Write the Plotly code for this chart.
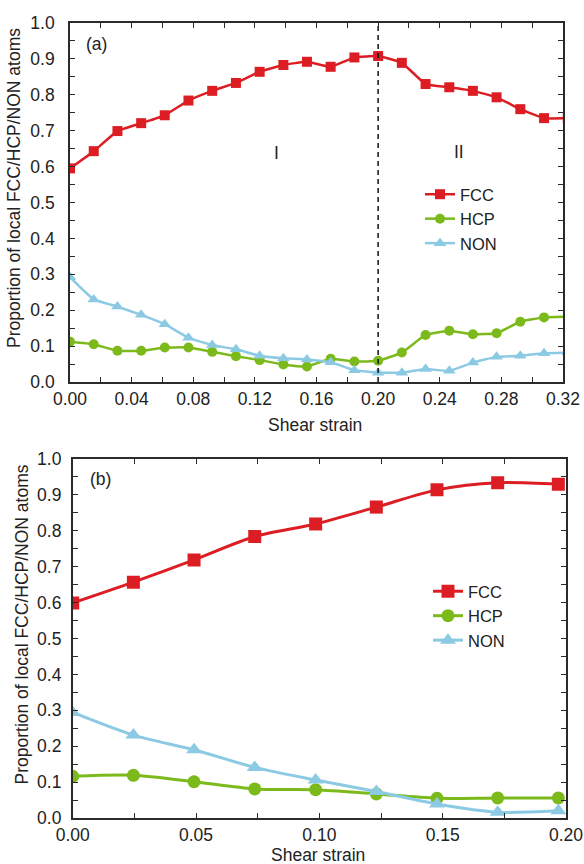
import plotly.graph_objects as go

# ---------------- data: panel (a) ----------------
strain_a = [0.0, 0.0154, 0.0308, 0.0462, 0.0615, 0.0769, 0.0923, 0.1077, 0.1231, 0.1385,
            0.1538, 0.1692, 0.1846, 0.2000, 0.2154, 0.2308, 0.2462, 0.2615, 0.2769, 0.2923,
            0.3077, 0.3231]
fcc_a = [0.595, 0.643, 0.699, 0.721, 0.743, 0.784, 0.811, 0.833, 0.864, 0.883,
         0.892, 0.878, 0.904, 0.908, 0.889, 0.830, 0.821, 0.811, 0.793, 0.760,
         0.735, 0.735]
hcp_a = [0.112, 0.105, 0.087, 0.087, 0.096, 0.096, 0.084, 0.072, 0.061, 0.049,
         0.043, 0.065, 0.057, 0.059, 0.082, 0.131, 0.143, 0.133, 0.136, 0.168,
         0.180, 0.182]
non_a = [0.292, 0.230, 0.210, 0.187, 0.161, 0.123, 0.103, 0.091, 0.073, 0.066,
         0.063, 0.055, 0.033, 0.026, 0.026, 0.036, 0.031, 0.054, 0.070, 0.073,
         0.080, 0.082]

# ---------------- data: panel (b) ----------------
strain_b = [0.0, 0.0246, 0.0492, 0.0738, 0.0985, 0.1231, 0.1477, 0.1723, 0.1969]
fcc_b = [0.599, 0.657, 0.719, 0.784, 0.819, 0.866, 0.914, 0.934, 0.930]
hcp_b = [0.116, 0.119, 0.101, 0.081, 0.079, 0.067, 0.055, 0.056, 0.056]
non_b = [0.294, 0.231, 0.190, 0.141, 0.106, 0.074, 0.039, 0.016, 0.020]

series_names = ["FCC", "HCP", "NON"]
boundary_strain = 0.2

# ---------------- styles ----------------
RED = "#dc1e24"
GREEN = "#7cba1c"
BLUE = "#8ccae4"
AX = "#2a2a2a"
FONT = "Arial, 'Liberation Sans', sans-serif"
FS = 17.5
LFS = 16.5

fig = go.Figure()

styles = [(RED, "square"), (GREEN, "circle"), (BLUE, "triangle-up")]

for name, ys, (col, sym) in zip(series_names, [fcc_a, hcp_a, non_a], styles):
    fig.add_trace(go.Scatter(
        x=strain_a, y=ys, name=name, mode="lines+markers",
        line=dict(color=col, width=2.5, shape="spline", smoothing=0.35),
        marker=dict(symbol=sym, size=10 if sym != "triangle-up" else 11, color=col),
        xaxis="x", yaxis="y", legend="legend"))

for name, ys, (col, sym) in zip(series_names, [fcc_b, hcp_b, non_b], styles):
    fig.add_trace(go.Scatter(
        x=strain_b, y=ys, name=name, mode="lines+markers",
        line=dict(color=col, width=3, shape="spline", smoothing=0.8),
        marker=dict(symbol=sym, size=13 if sym != "triangle-up" else 14, color=col),
        xaxis="x2", yaxis="y2", legend="legend2"))

# dashed boundary line in panel (a)
fig.add_trace(go.Scatter(
    x=[boundary_strain, boundary_strain], y=[0, 1], mode="lines",
    line=dict(color="#111111", width=1.5, dash="5px,4px"),
    showlegend=False, hoverinfo="skip", xaxis="x", yaxis="y"))

W, H = 584, 864


def px_x(p):
    return p / W


def px_y(p):
    return 1 - p / H


common_axis = dict(
    showline=True, linecolor=AX, linewidth=1.6, mirror="allticks",
    ticks="inside", ticklen=5, tickwidth=1.3, tickcolor=AX,
    showgrid=False, zeroline=False, automargin=False,
    tickfont=dict(family=FONT, size=FS, color="#222222"),
)

fig.update_layout(
    width=W, height=H,
    margin=dict(l=0, r=0, t=0, b=0, autoexpand=False),
    paper_bgcolor="white", plot_bgcolor="white",
    font=dict(family=FONT, size=FS, color="#222222"),
    xaxis=dict(domain=[px_x(70), px_x(563)], range=[0, 0.32], dtick=0.04,
               tickformat=".2f", anchor="y", ticklabelstandoff=0,
               minor=dict(dtick=0.02, ticks="inside", ticklen=5, tickwidth=1.3, tickcolor=AX),
               **common_axis),
    yaxis=dict(domain=[px_y(382), px_y(23)], range=[0, 1.0], dtick=0.1,
               tickformat=".1f", anchor="x", ticklabelstandoff=10,
               minor=dict(dtick=0.05, ticks="inside", ticklen=5, tickwidth=1.3, tickcolor=AX),
               **common_axis),
    xaxis2=dict(domain=[px_x(72.7), px_x(566)], range=[0, 0.2], dtick=0.05,
                tickformat=".2f", anchor="y2", ticklabelstandoff=0,
                minor=dict(dtick=0.025, ticks="inside", ticklen=5, tickwidth=1.3, tickcolor=AX),
                **common_axis),
    yaxis2=dict(domain=[px_y(818), px_y(459)], range=[0, 1.0], dtick=0.1,
                tickformat=".1f", anchor="x2", ticklabelstandoff=6,
                minor=dict(dtick=0.05, ticks="inside", ticklen=5, tickwidth=1.3, tickcolor=AX),
                **common_axis),
    legend=dict(x=px_x(420), y=px_y(177), xanchor="left", yanchor="top",
                bgcolor="rgba(0,0,0,0)", font=dict(family=FONT, size=LFS),
                tracegroupgap=0, itemsizing="trace"),
    legend2=dict(x=px_x(428), y=px_y(574), xanchor="left", yanchor="top",
                 bgcolor="rgba(0,0,0,0)", font=dict(family=FONT, size=LFS),
                 tracegroupgap=0, itemsizing="trace"),
    showlegend=True,
)

annotations = [
    dict(text="(a)", x=0.0169, y=0.9415, xref="x", yref="y", showarrow=False,
         font=dict(family=FONT, size=FS)),
    dict(text="I", x=0.1338, y=0.638, xref="x", yref="y", showarrow=False,
         font=dict(family=FONT, size=FS)),
    dict(text="II", x=0.2526, y=0.641, xref="x", yref="y", showarrow=False,
         font=dict(family=FONT, size=FS)),
    dict(text="(b)", x=0.0111, y=0.944, xref="x2", yref="y2", showarrow=False,
         font=dict(family=FONT, size=FS)),
    dict(text="Shear strain", x=px_x(315), y=px_y(425), xref="paper", yref="paper",
         showarrow=False, xanchor="center", yanchor="middle", font=dict(family=FONT, size=FS)),
    dict(text="Shear strain", x=px_x(318), y=px_y(855), xref="paper", yref="paper",
         showarrow=False, xanchor="center", yanchor="middle", font=dict(family=FONT, size=FS)),
    dict(text="Proportion of local FCC/HCP/NON atoms", x=px_x(14), y=px_y(188),
         xref="paper", yref="paper", showarrow=False, textangle=-90,
         xanchor="center", yanchor="middle", font=dict(family=FONT, size=FS)),
    dict(text="Proportion of local FCC/HCP/NON atoms", x=px_x(21.5), y=px_y(625),
         xref="paper", yref="paper", showarrow=False, textangle=-90,
         xanchor="center", yanchor="middle", font=dict(family=FONT, size=FS)),
]
fig.update_layout(annotations=annotations)

fig.write_html("out.html")
